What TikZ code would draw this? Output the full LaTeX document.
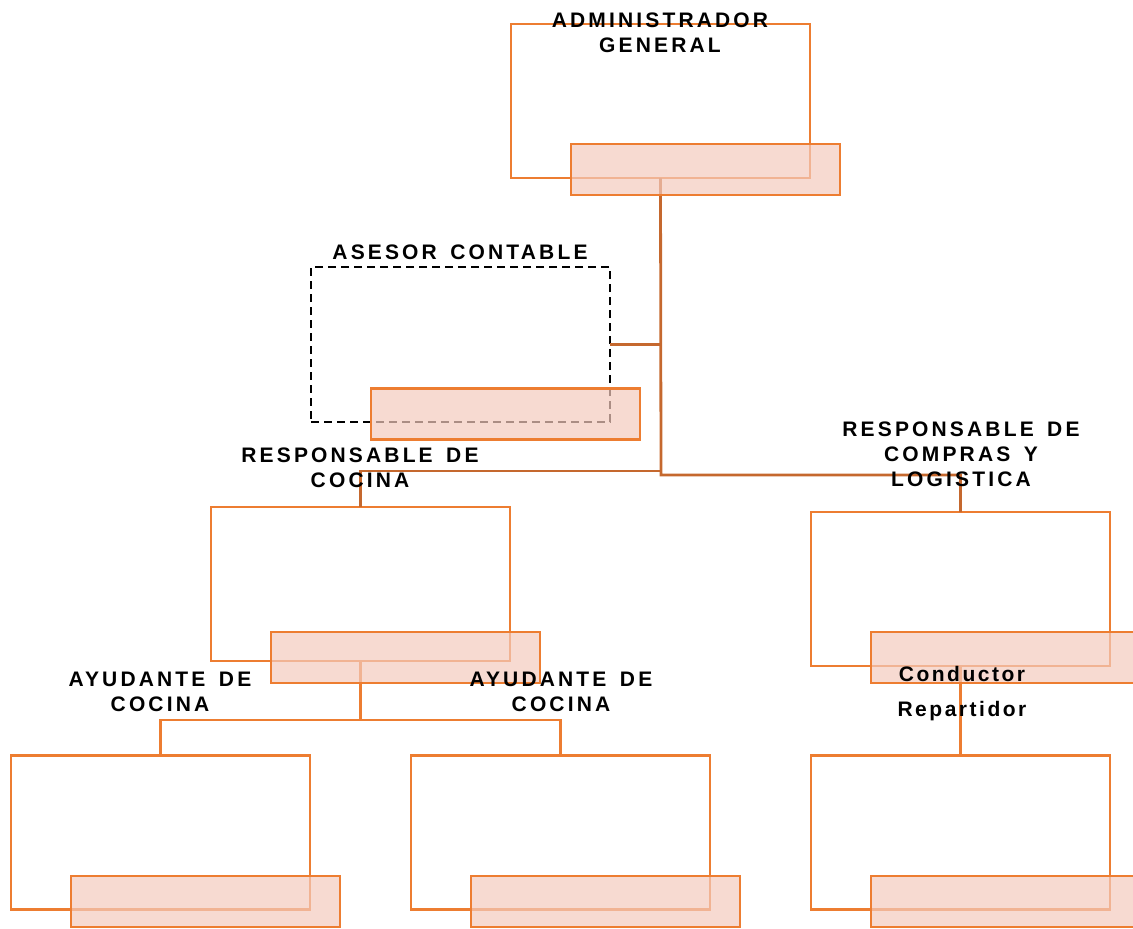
\documentclass[tikz,border=0pt]{standalone}
\usepackage{fontspec}
\newfontfamily\lblfont[LetterSpace=15,WordSpace=1.5]{Liberation Sans}
\newfontfamily\condfont[LetterSpace=12]{Liberation Sans}
\definecolor{boxor}{HTML}{ED7D31}
\definecolor{connbr}{HTML}{C5682E}
\definecolor{pinkf}{HTML}{F4CABD}
\begin{document}
\begin{tikzpicture}[x=1pt,y=-1pt,
  orgbox/.style={draw=boxor, line width=2.8pt, minimum width=299pt, minimum height=154pt, inner sep=0pt, outer sep=0pt},
  dbox/.style={draw=black, line width=2.4pt, dash pattern=on 8pt off 5pt, minimum width=299pt, minimum height=155pt, inner sep=0pt, outer sep=0pt},
  band/.style={draw=boxor, line width=2.8pt, fill=pinkf, fill opacity=0.7, draw opacity=1, minimum width=269pt, minimum height=51pt, inner sep=0pt, outer sep=0pt},
  connA/.style={draw=connbr, line width=2.8pt},
  connB/.style={draw=boxor, line width=2.8pt},
  lbl/.style={font=\lblfont\bfseries\fontsize{21pt}{25pt}\selectfont, align=center, inner sep=0pt, anchor=north},
  lblc/.style={font=\condfont\bfseries\fontsize{21pt}{35pt}\selectfont, align=center, inner sep=0pt, anchor=north}
]
\useasboundingbox (0,0) rectangle (1133,929);
% outer boxes
\node[orgbox] (admin) at (660.5,101) {};
\node[dbox] (asesor) at (460.5,344.5) {};
\node[orgbox] (cocina) at (360.5,584) {};
\node[orgbox] (compras) at (960.5,589) {};
\node[orgbox] (ay1) at (160.5,832.5) {};
\node[orgbox] (ay2) at (560.5,832.5) {};
\node[orgbox] (cond) at (960.5,832.5) {};
% junction coordinates
\coordinate (jB) at (661,471);
\coordinate (jC) at (661,475);
\coordinate (jE) at (360.5,720);
% connectors
\draw[connA] (admin.south) -- (jC) -- (compras.north |- jC) -- (compras.north);
\draw[connA] (asesor.east) -- (asesor.east -| admin.south);
\draw[connA] (cocina.north) -- (cocina.north |- jB) -- (jB);
\draw[connB] (cocina.south) -- (jE);
\draw[connB] (ay1.north) |- (jE);
\draw[connB] (ay2.north) |- (jE);
\draw[connB] (compras.south) -- (cond.north);
% bands
\node[band] (adminband) at (705.5,169.5) {};
\node[band] (asesorband) at (505.5,414) {};
\node[band] (cocinaband) at (405.5,657.5) {};
\node[band] (comprasband) at (1005.5,657.5) {};
\node[band] (ay1band) at (205.5,901.5) {};
\node[band] (ay2band) at (605.5,901.5) {};
\node[band] (condband) at (1005.5,901.5) {};
% labels
\node[lbl] (adminlbl) at (660,13) {ADMINISTRADOR\\GENERAL};
\node[lbl] (asesorlbl) at (460,245) {ASESOR CONTABLE};
\node[lbl] (cocinalbl) at (360,448) {RESPONSABLE DE\\COCINA};
\node[lbl] (compraslbl) at (961,422) {RESPONSABLE DE\\COMPRAS Y\\LOGISTICA};
\node[lbl] (ay1lbl) at (160,672) {AYUDANTE DE\\COCINA};
\node[lbl] (ay2lbl) at (561,672) {AYUDANTE DE\\COCINA};
\node[lblc] (condlbl) at (962,666) {Conductor\\Repartidor};
\end{tikzpicture}
\end{document}
